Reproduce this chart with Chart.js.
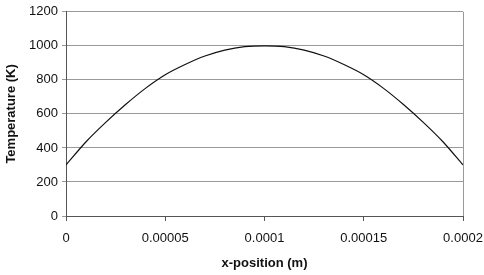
<!DOCTYPE html>
<html>
<head>
<meta charset="utf-8">
<script src="https://cdn.jsdelivr.net/npm/chart.js@4.4.0/dist/chart.umd.min.js"></script>
<style>
  html, body { margin: 0; padding: 0; background: #fff; }
  #wrap { width: 484px; height: 275px; }
</style>
</head>
<body>
<div id="wrap"><canvas id="chart"></canvas></div>
<script>
// --- DATA ---
const xPositions = [0, 0.00001, 0.00002, 0.00003, 0.00004, 0.00005, 0.00006, 0.00007, 0.00008, 0.00009, 0.0001,
                    0.00011, 0.00012, 0.00013, 0.00014, 0.00015, 0.00016, 0.00017, 0.00018, 0.00019, 0.0002];
const temperatures = [300, 435, 550, 655, 750, 830, 890, 940, 975, 995, 1000,
                      995, 975, 940, 890, 830, 750, 655, 550, 435, 300];
const xTickValues = [0, 0.00005, 0.0001, 0.00015, 0.0002];
const xTickLabels = ['0', '0.00005', '0.0001', '0.00015', '0.0002'];

const points = xPositions.map((x, i) => ({ x: x, y: temperatures[i] }));

// right edge of the plot box
const frameRight = {
    id: 'frameRight',
    afterDraw(chart) {
        const { ctx, chartArea } = chart;
        ctx.save();
        ctx.strokeStyle = '#999';
        ctx.lineWidth = 1;
        ctx.beginPath();
        ctx.moveTo(Math.round(chartArea.right) + 0.5, chartArea.top);
        ctx.lineTo(Math.round(chartArea.right) + 0.5, chartArea.bottom);
        ctx.stroke();
        ctx.restore();
    }
};

Chart.defaults.font.family = '"Liberation Sans", Arial, sans-serif';
Chart.defaults.color = '#111';

new Chart(document.getElementById('chart').getContext('2d'), {
    type: 'line',
    data: {
        datasets: [{
            data: points,
            borderColor: '#111',
            borderWidth: 1.2,
            pointRadius: 0,
            tension: 0.3,
            fill: false
        }]
    },
    options: {
        responsive: true,
        maintainAspectRatio: false,
        animation: false,
        layout: { padding: { top: 10, right: 21, left: 0, bottom: 0 } },
        plugins: { legend: { display: false }, tooltip: { enabled: false } },
        scales: {
            x: {
                type: 'linear',
                min: 0,
                max: 0.0002,
                afterBuildTicks: scale => { scale.ticks = xTickValues.map(v => ({ value: v })); },
                afterFit: scale => { scale.height = 59; scale.paddingRight = 0; scale.paddingLeft = 0; },
                ticks: {
                    font: { size: 13 },
                    padding: 10,
                    maxRotation: 0,
                    callback: (v) => { const i = xTickValues.indexOf(v); return i >= 0 ? xTickLabels[i] : ''; }
                },
                grid: { drawOnChartArea: false, drawTicks: true, tickLength: 5, color: '#555' },
                border: { color: '#555' },
                title: { display: true, text: 'x-position (m)', font: { size: 13, weight: 'bold' }, padding: { top: 4 } }
            },
            y: {
                min: 0,
                max: 1200,
                afterFit: scale => { scale.width = 66; },
                ticks: { stepSize: 200, font: { size: 13 }, padding: 4, callback: v => String(v) },
                grid: { color: '#999', tickLength: 4, lineWidth: 1 },
                border: { color: '#555' },
                title: { display: true, text: 'Temperature (K)', font: { size: 13, weight: 'bold' }, padding: { bottom: 2 } }
            }
        }
    },
    plugins: [frameRight]
});
</script>
</body>
</html>
